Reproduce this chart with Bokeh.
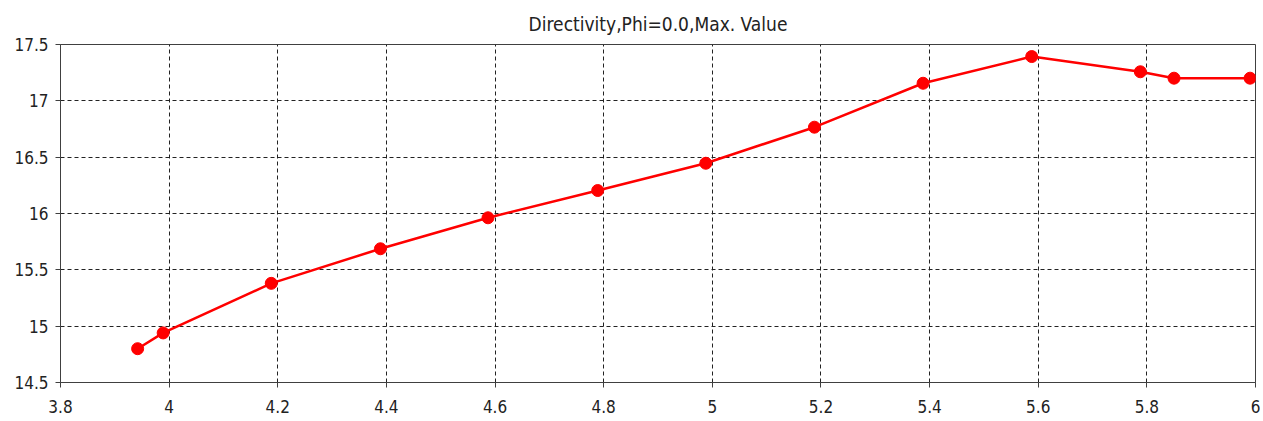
from bokeh.plotting import figure
from bokeh.models import Range1d, FixedTicker
from bokeh.embed import file_html
from bokeh.resources import INLINE

# data
freq = [3.942, 3.989, 4.188, 4.389, 4.587, 4.789, 4.988, 5.188, 5.388, 5.588, 5.788, 5.850, 5.990]
directivity = [14.80, 14.94, 15.38, 15.687, 15.962, 16.204, 16.446, 16.766, 17.156, 17.393, 17.258, 17.201, 17.201]

x_ticks = [3.8, 4.0, 4.2, 4.4, 4.6, 4.8, 5.0, 5.2, 5.4, 5.6, 5.8, 6.0]
x_labels = ["3.8", "4", "4.2", "4.4", "4.6", "4.8", "5", "5.2", "5.4", "5.6", "5.8", "6"]
y_ticks = [14.5, 15.0, 15.5, 16.0, 16.5, 17.0, 17.5]
y_labels = ["14.5", "15", "15.5", "16", "16.5", "17", "17.5"]

title_text = "Directivity,Phi=0.0,Max. Value"

FONT = "DejaVu Sans Condensed"

p = figure(
    output_backend="svg", toolbar_location=None,
    frame_width=1195, frame_height=338,
    min_border_left=60, min_border_right=5, min_border_top=44, min_border_bottom=37,
    x_range=Range1d(3.8, 6.0), y_range=Range1d(14.5, 17.5),
    title=title_text,
)
p.title.align = "center"
p.title.text_font = FONT
p.title.text_font_size = "19px"
p.title.text_font_style = "normal"
p.title.text_color = "#222222"
p.title.offset = 0
p.title.standoff = 20

p.background_fill_color = "white"
p.border_fill_color = "white"
p.outline_line_color = "#404040"
p.outline_line_width = 1

for ax, ticks, labels in ((p.xaxis[0], x_ticks, x_labels), (p.yaxis[0], y_ticks, y_labels)):
    ax.ticker = FixedTicker(ticks=ticks)
    ax.major_label_overrides = {t: l for t, l in zip(ticks, labels)}
    ax.axis_line_color = "#404040"
    ax.axis_line_width = 1
    ax.major_tick_line_color = "#404040"
    ax.major_tick_out = 5
    ax.major_tick_in = 0
    ax.minor_tick_line_color = None
    ax.major_label_text_font = FONT
    ax.major_label_text_font_size = "17px"
    ax.major_label_text_color = "#222222"

p.yaxis[0].major_label_standoff = 7
p.xaxis[0].major_label_standoff = 12

for g in (p.xgrid[0], p.ygrid[0]):
    g.grid_line_color = "#222222"
    g.grid_line_dash = "4 3"
    g.grid_line_width = 1
    g.grid_line_alpha = 1.0

p.line(freq, directivity, line_color="#ff0000", line_width=2.5)
p.scatter(freq, directivity, size=12, fill_color="#ff0000", line_color="#ff0000")

open("out.html", "w").write(file_html(p, INLINE))
